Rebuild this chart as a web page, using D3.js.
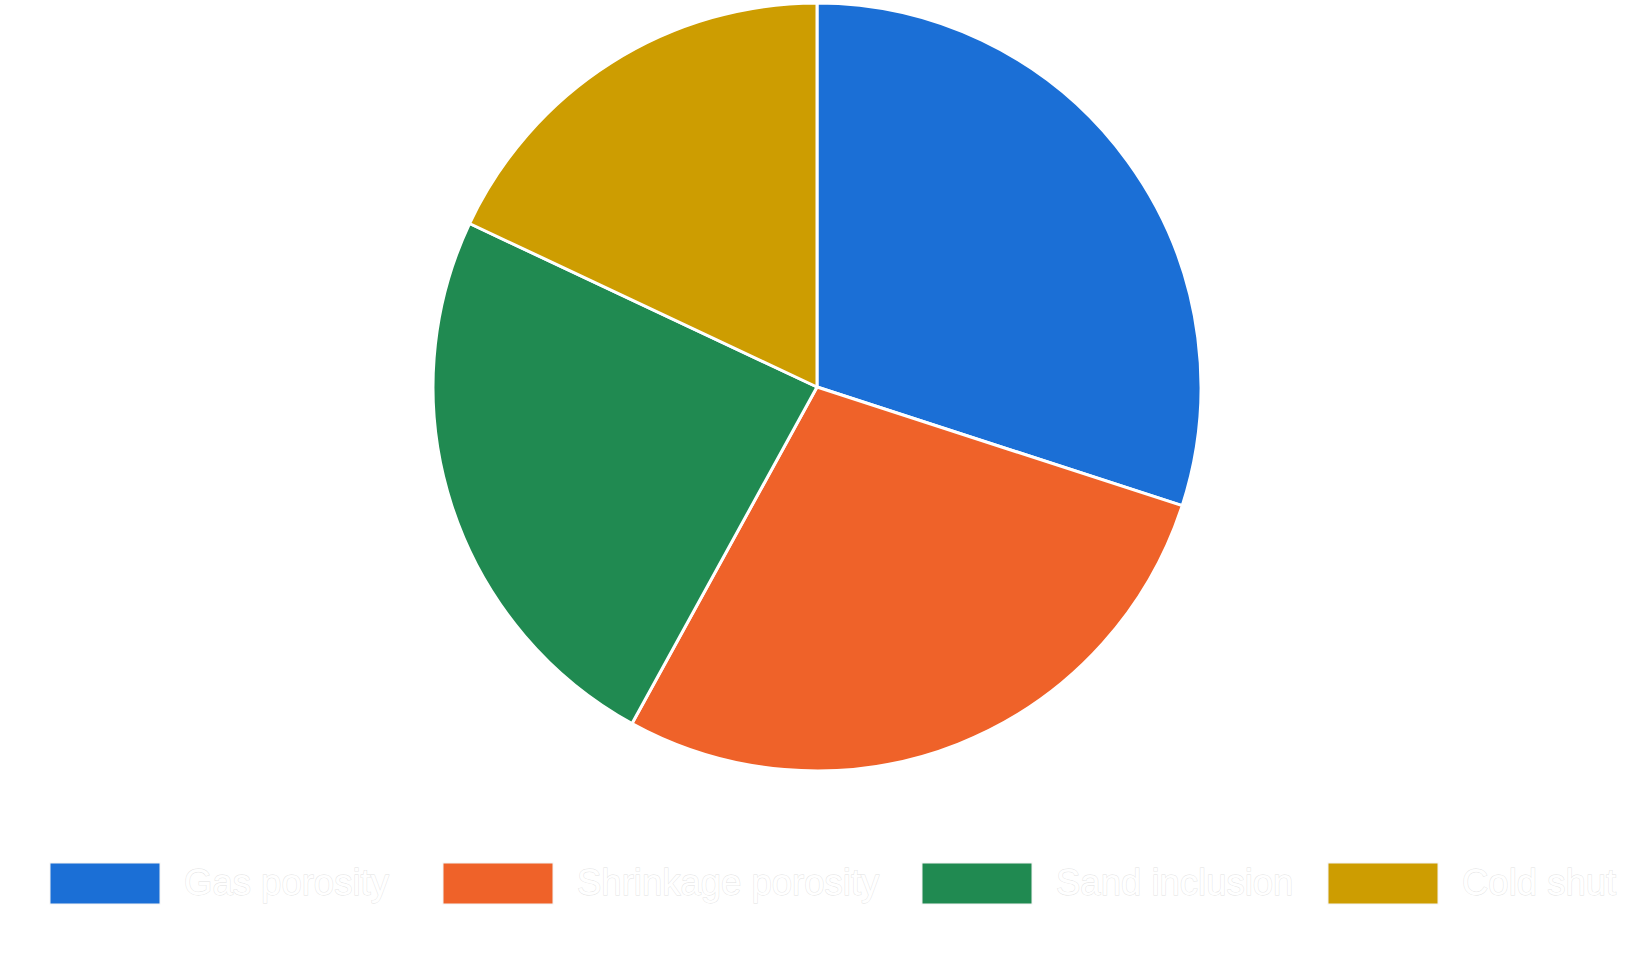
<!DOCTYPE html>
<html><head><meta charset="utf-8">
<script src="https://cdn.jsdelivr.net/npm/d3@7"></script>
<style>html,body{margin:0;padding:0;background:#fff;overflow:hidden}</style>
</head><body>
<svg id="chart" width="1639" height="960"></svg>
<script>
const categories = ["Gas porosity", "Shrinkage porosity", "Sand inclusion", "Cold shut"];
const values = [30, 28, 24, 18];
const colors = ["#1b6fd6", "#ef6229", "#208a51", "#cd9d01"];

const svg = d3.select("#chart");
const cx = 817, cy = 387, r = 384;

const pie = d3.pie().sort(null).value(d => d.v);
const arc = d3.arc().innerRadius(0).outerRadius(r);
const data = categories.map((c, i) => ({c, v: values[i]}));
const color = d3.scaleOrdinal().domain(categories).range(colors);

svg.append("g").attr("transform", `translate(${cx},${cy})`)
  .selectAll("path").data(pie(data)).join("path")
  .attr("d", arc)
  .attr("fill", d => color(d.data.c))
  .attr("stroke", "#fff").attr("stroke-width", 3).attr("stroke-linejoin", "round");

// legend
const legend = svg.append("g");
const boxX = [50, 443, 922, 1328];
const boxW = 110, boxH = 41, boxY = 863, gap = 24;
categories.forEach((c, i) => {
  const x = boxX[i];
  legend.append("rect").attr("x", x).attr("y", boxY).attr("width", boxW).attr("height", boxH)
    .attr("fill", color(c)).attr("stroke", "#f4f4f4").attr("stroke-width", 1);
  legend.append("text").attr("x", x + boxW + gap).attr("y", 895)
    .attr("font-family", "Liberation Sans, Arial, sans-serif").attr("font-size", 36.5)
    .attr("fill", "#ffffff").attr("stroke", "#e2e2e2").attr("stroke-width", 0.8)
    .attr("paint-order", "stroke")
    .text(c);
});
</script>
</body></html>
